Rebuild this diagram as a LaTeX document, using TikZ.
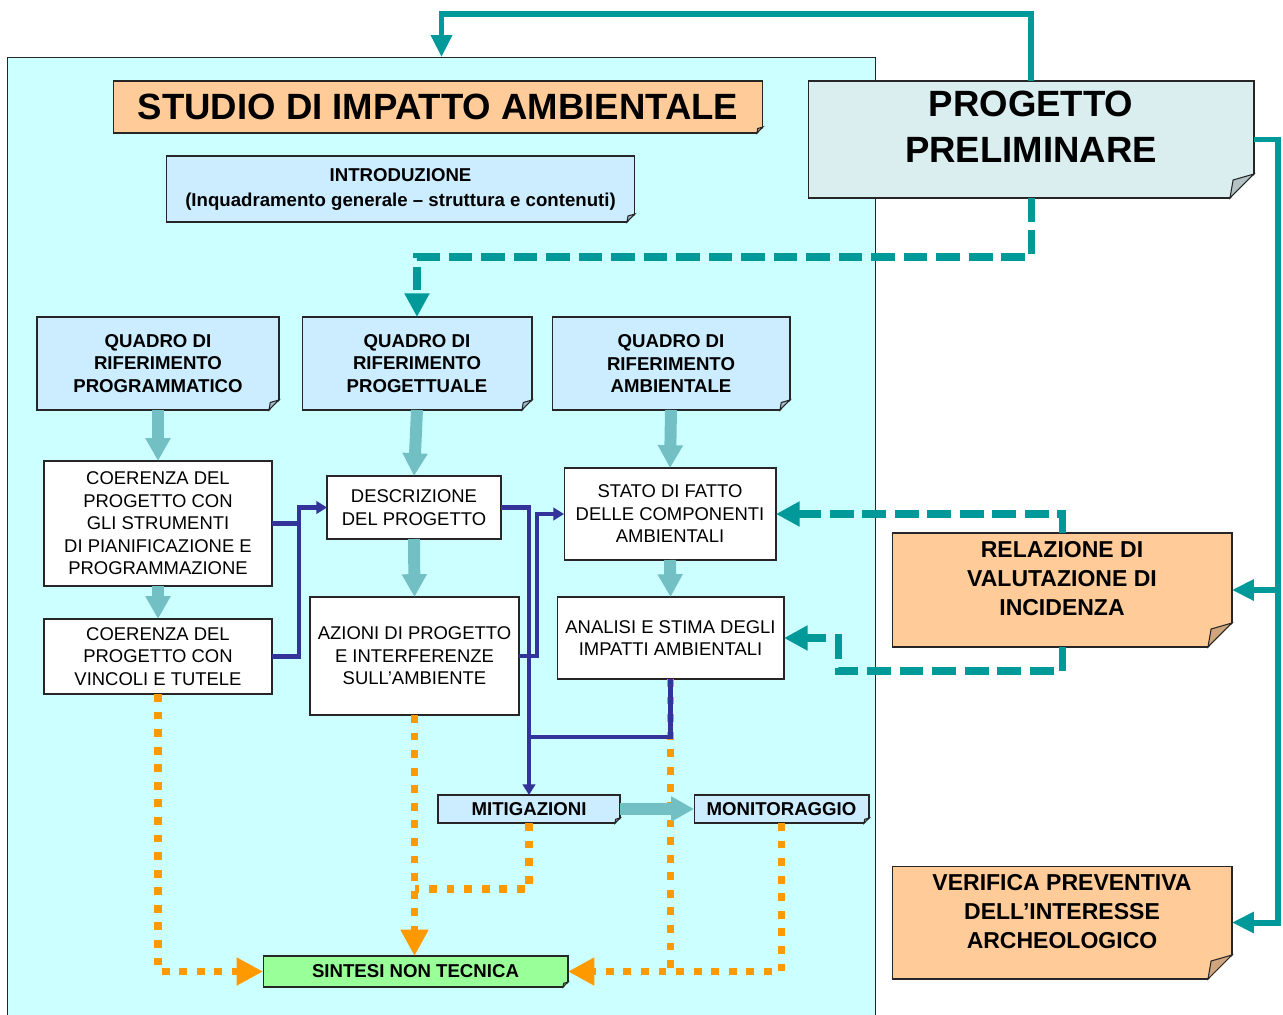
\documentclass[tikz,border=0pt]{standalone}
\usepackage{fontspec}
\setmainfont{Liberation Sans}
\usetikzlibrary{arrows.meta,calc}

\definecolor{panelcyan}{HTML}{CCFFFF}
\definecolor{peach}{HTML}{FFCC99}
\definecolor{peachfold}{HTML}{CFA57D}
\definecolor{greyblue}{HTML}{DAEDEF}
\definecolor{greyfold}{HTML}{B3C3C5}
\definecolor{paleblue}{HTML}{CCECFF}
\definecolor{palefold}{HTML}{A0BCCB}
\definecolor{palegreen}{HTML}{99FF99}
\definecolor{greenfold}{HTML}{77C977}
\definecolor{darkteal}{HTML}{009999}
\definecolor{lightteal}{HTML}{72BFC4}
\definecolor{navy}{HTML}{333399}
\definecolor{amber}{HTML}{FF9900}

% folded corner: node, size, background, fold colour
\newcommand{\dogear}[4]{%
  \fill[#3] ([shift={(-#2,-1.2)}]#1.south east) -- ([shift={(1.2,-1.2)}]#1.south east) -- ([shift={(1.2,#2)}]#1.south east) -- cycle;
  \draw[line width=0.6pt, draw=black!85, fill=#4] ([shift={(-#2,0)}]#1.south east) -- ([shift={(0,#2)}]#1.south east)
    -- ([shift={(-0.87*#2,0.75*#2)}]#1.south east) -- cycle;
}

\tikzset{
  box/.style={draw=black!85, line width=0.6pt, outer sep=0pt, inner sep=0pt, align=center},
  whitebox/.style={box, fill=white, font=\fontsize{10.5}{12.8}\selectfont},
  bluebox/.style={box, fill=paleblue, font=\bfseries\fontsize{10.6}{12.8}\selectfont},
  peachbox/.style={box, fill=peach},
  bigtext/.style={align=center, inner sep=0pt, font=\bfseries\fontsize{20.8}{26.2}\selectfont},
  peachtext/.style={align=center, inner sep=0pt, font=\bfseries\fontsize{13.1}{16.5}\selectfont},
  tealline/.style={draw=darkteal, line width=3.4pt},
  tealarrow/.style={tealline, -{Triangle[length=12.5pt,width=11.5pt]}},
  tealdash/.style={draw=darkteal, line width=4pt, dash pattern=on 13.5pt off 5pt, -{Triangle[length=13.5pt,width=13.5pt]}},
  fatarrow/.style={draw=lightteal, line width=6.8pt, -{Triangle[length=13pt,width=13.5pt]}},
  navyline/.style={draw=navy, line width=2.3pt},
  navyarrow/.style={navyline, -{Triangle[length=6pt,width=7pt]}},
  amberline/.style={draw=amber, line width=4.5pt, dash pattern=on 4.5pt off 5.5pt},
  amberarrow/.style={amberline, -{Triangle[length=15pt,width=15pt]}},
}

\begin{document}
\begin{tikzpicture}[x=0.02cm,y=0.02cm]
  \useasboundingbox (0,0) rectangle (1283,-1014);
  \node[box, fill=panelcyan, minimum width=17.38cm, minimum height=19.26cm] (sia) at (441.5,-538.5) {};

  \node[peachbox, minimum width=13cm, minimum height=1.04cm, font=\bfseries\fontsize{20.8}{24}\selectfont] (studio) at (438,-107) {STUDIO DI IMPATTO AMBIENTALE};
  \dogear{studio}{6}{panelcyan}{peachfold}
  \node[box, fill=greyblue, minimum width=8.92cm, minimum height=2.34cm] (prog) at (1031,-139.5) {};
  \dogear{prog}{24}{white}{greyfold}
  \node[bigtext] (progtext) at (1031,-127) {PROGETTO\\PRELIMINARE};
  \node[bluebox, minimum width=9.38cm, minimum height=1.32cm, font=\bfseries\fontsize{10.6}{14.2}\selectfont] (intro) at (400.5,-189) {INTRODUZIONE\\(Inquadramento generale – struttura e contenuti)};
  \dogear{intro}{8}{panelcyan}{palefold}

  \node[bluebox, minimum width=4.84cm, minimum height=1.86cm] (qprog) at (158,-363.5) {QUADRO DI\\RIFERIMENTO\\PROGRAMMATICO};
  \dogear{qprog}{10}{panelcyan}{palefold}
  \node[bluebox, minimum width=4.6cm, minimum height=1.86cm] (qprogett) at (417,-363.5) {QUADRO DI\\RIFERIMENTO\\PROGETTUALE};
  \dogear{qprogett}{10}{panelcyan}{palefold}
  \node[bluebox, minimum width=4.76cm, minimum height=1.86cm] (qamb) at (671,-363.5) {QUADRO DI\\RIFERIMENTO\\AMBIENTALE};
  \dogear{qamb}{10}{panelcyan}{palefold}

  \node[whitebox, minimum width=4.56cm, minimum height=2.5cm] (coer1) at (158,-523.5) {COERENZA DEL\\PROGETTO CON\\GLI STRUMENTI\\DI PIANIFICAZIONE E\\PROGRAMMAZIONE};
  \node[whitebox, minimum width=4.56cm, minimum height=1.5cm] (coer2) at (158,-656.5) {COERENZA DEL\\PROGETTO CON\\VINCOLI E TUTELE};
  \node[whitebox, minimum width=3.48cm, minimum height=1.26cm] (descr) at (414,-507.5) {DESCRIZIONE\\DEL PROGETTO};
  \node[whitebox, minimum width=4.18cm, minimum height=2.36cm] (azioni) at (414.5,-656) {AZIONI DI PROGETTO\\E INTERFERENZE\\SULL’AMBIENTE};
  \node[whitebox, minimum width=4.24cm, minimum height=1.84cm] (stato) at (670,-514) {STATO DI FATTO\\DELLE COMPONENTI\\AMBIENTALI};
  \node[whitebox, minimum width=4.54cm, minimum height=1.64cm] (analisi) at (670.5,-638) {ANALISI E STIMA DEGLI\\IMPATTI AMBIENTALI};

  \node[bluebox, minimum width=3.64cm, minimum height=0.56cm] (mitig) at (529,-809) {MITIGAZIONI};
  \dogear{mitig}{5}{panelcyan}{palefold}
  \node[bluebox, minimum width=3.5cm, minimum height=0.56cm] (monit) at (781.5,-809) {MONITORAGGIO};
  \dogear{monit}{5}{panelcyan}{palefold}
  \node[bluebox, fill=palegreen, minimum width=6.1cm, minimum height=0.62cm] (sintesi) at (415.5,-971.5) {SINTESI NON TECNICA};
  \dogear{sintesi}{5}{panelcyan}{greenfold}

  \node[peachbox, minimum width=6.8cm, minimum height=2.28cm] (relaz) at (1062,-590) {};
  \dogear{relaz}{24}{white}{peachfold}
  \node[peachtext] (relaztext) at (1062,-579) {RELAZIONE DI\\VALUTAZIONE DI\\INCIDENZA};
  \node[peachbox, minimum width=6.8cm, minimum height=2.26cm] (verif) at (1062,-922.5) {};
  \dogear{verif}{24}{white}{peachfold}
  \node[peachtext] (veriftext) at (1062,-912) {VERIFICA PREVENTIVA\\DELL’INTERESSE\\ARCHEOLOGICO};

  \draw[amberarrow] (coer2.south) |- (sintesi.west);
  \draw[amberarrow] (azioni.south) -- (azioni.south |- sintesi.north);
  \draw[amberline] (mitig.south) |- ($(azioni.south)+(0,-174)$);
  \draw[amberline] (analisi.south) -- (analisi.south |- sintesi.east);
  \draw[amberarrow] (monit.south) |- (sintesi.east);

  \draw[navyline] (coer1.east) -- ++(27,0);
  \draw[navyarrow] (coer2.east) -- ++(27,0) |- (descr.west);
  \draw[navyarrow] (descr.east) -| (mitig.north);
  \draw[navyarrow] (azioni.east) -- ++(18,0) |- (stato.west);
  \draw[navyline] (analisi.south) |- ($(mitig.north)+(0,58)$);

  \draw[fatarrow] (qprog.south) -- (coer1.north);
  \draw[fatarrow] (coer1.south) -- (coer2.north);
  \draw[fatarrow] (qprogett.south) -- (descr.north);
  \draw[fatarrow] (descr.south) -- (azioni.north);
  \draw[fatarrow] (qamb.south) -- (stato.north);
  \draw[fatarrow] (stato.south) -- (analisi.north);
  \draw[fatarrow] (mitig.east) -- (monit.west);

  \draw[tealarrow] (prog.north) -- ++(0,67) -| (sia.north);
  \draw[tealarrow] (prog.east) -- ++(24,0) |- (verif.east);
  \draw[tealarrow] ($(prog.east)+(24,0)$) |- (relaz.east);
  \draw[tealdash] (prog.south) -- ++(0,-59) -| (qprogett.north);
  \draw[tealdash] (relaz.north) |- (stato.east);
  \draw[tealdash] (relaz.south) -- ++(0,-24) -- ++(-224,0) |- (analisi.east);
\end{tikzpicture}
\end{document}
